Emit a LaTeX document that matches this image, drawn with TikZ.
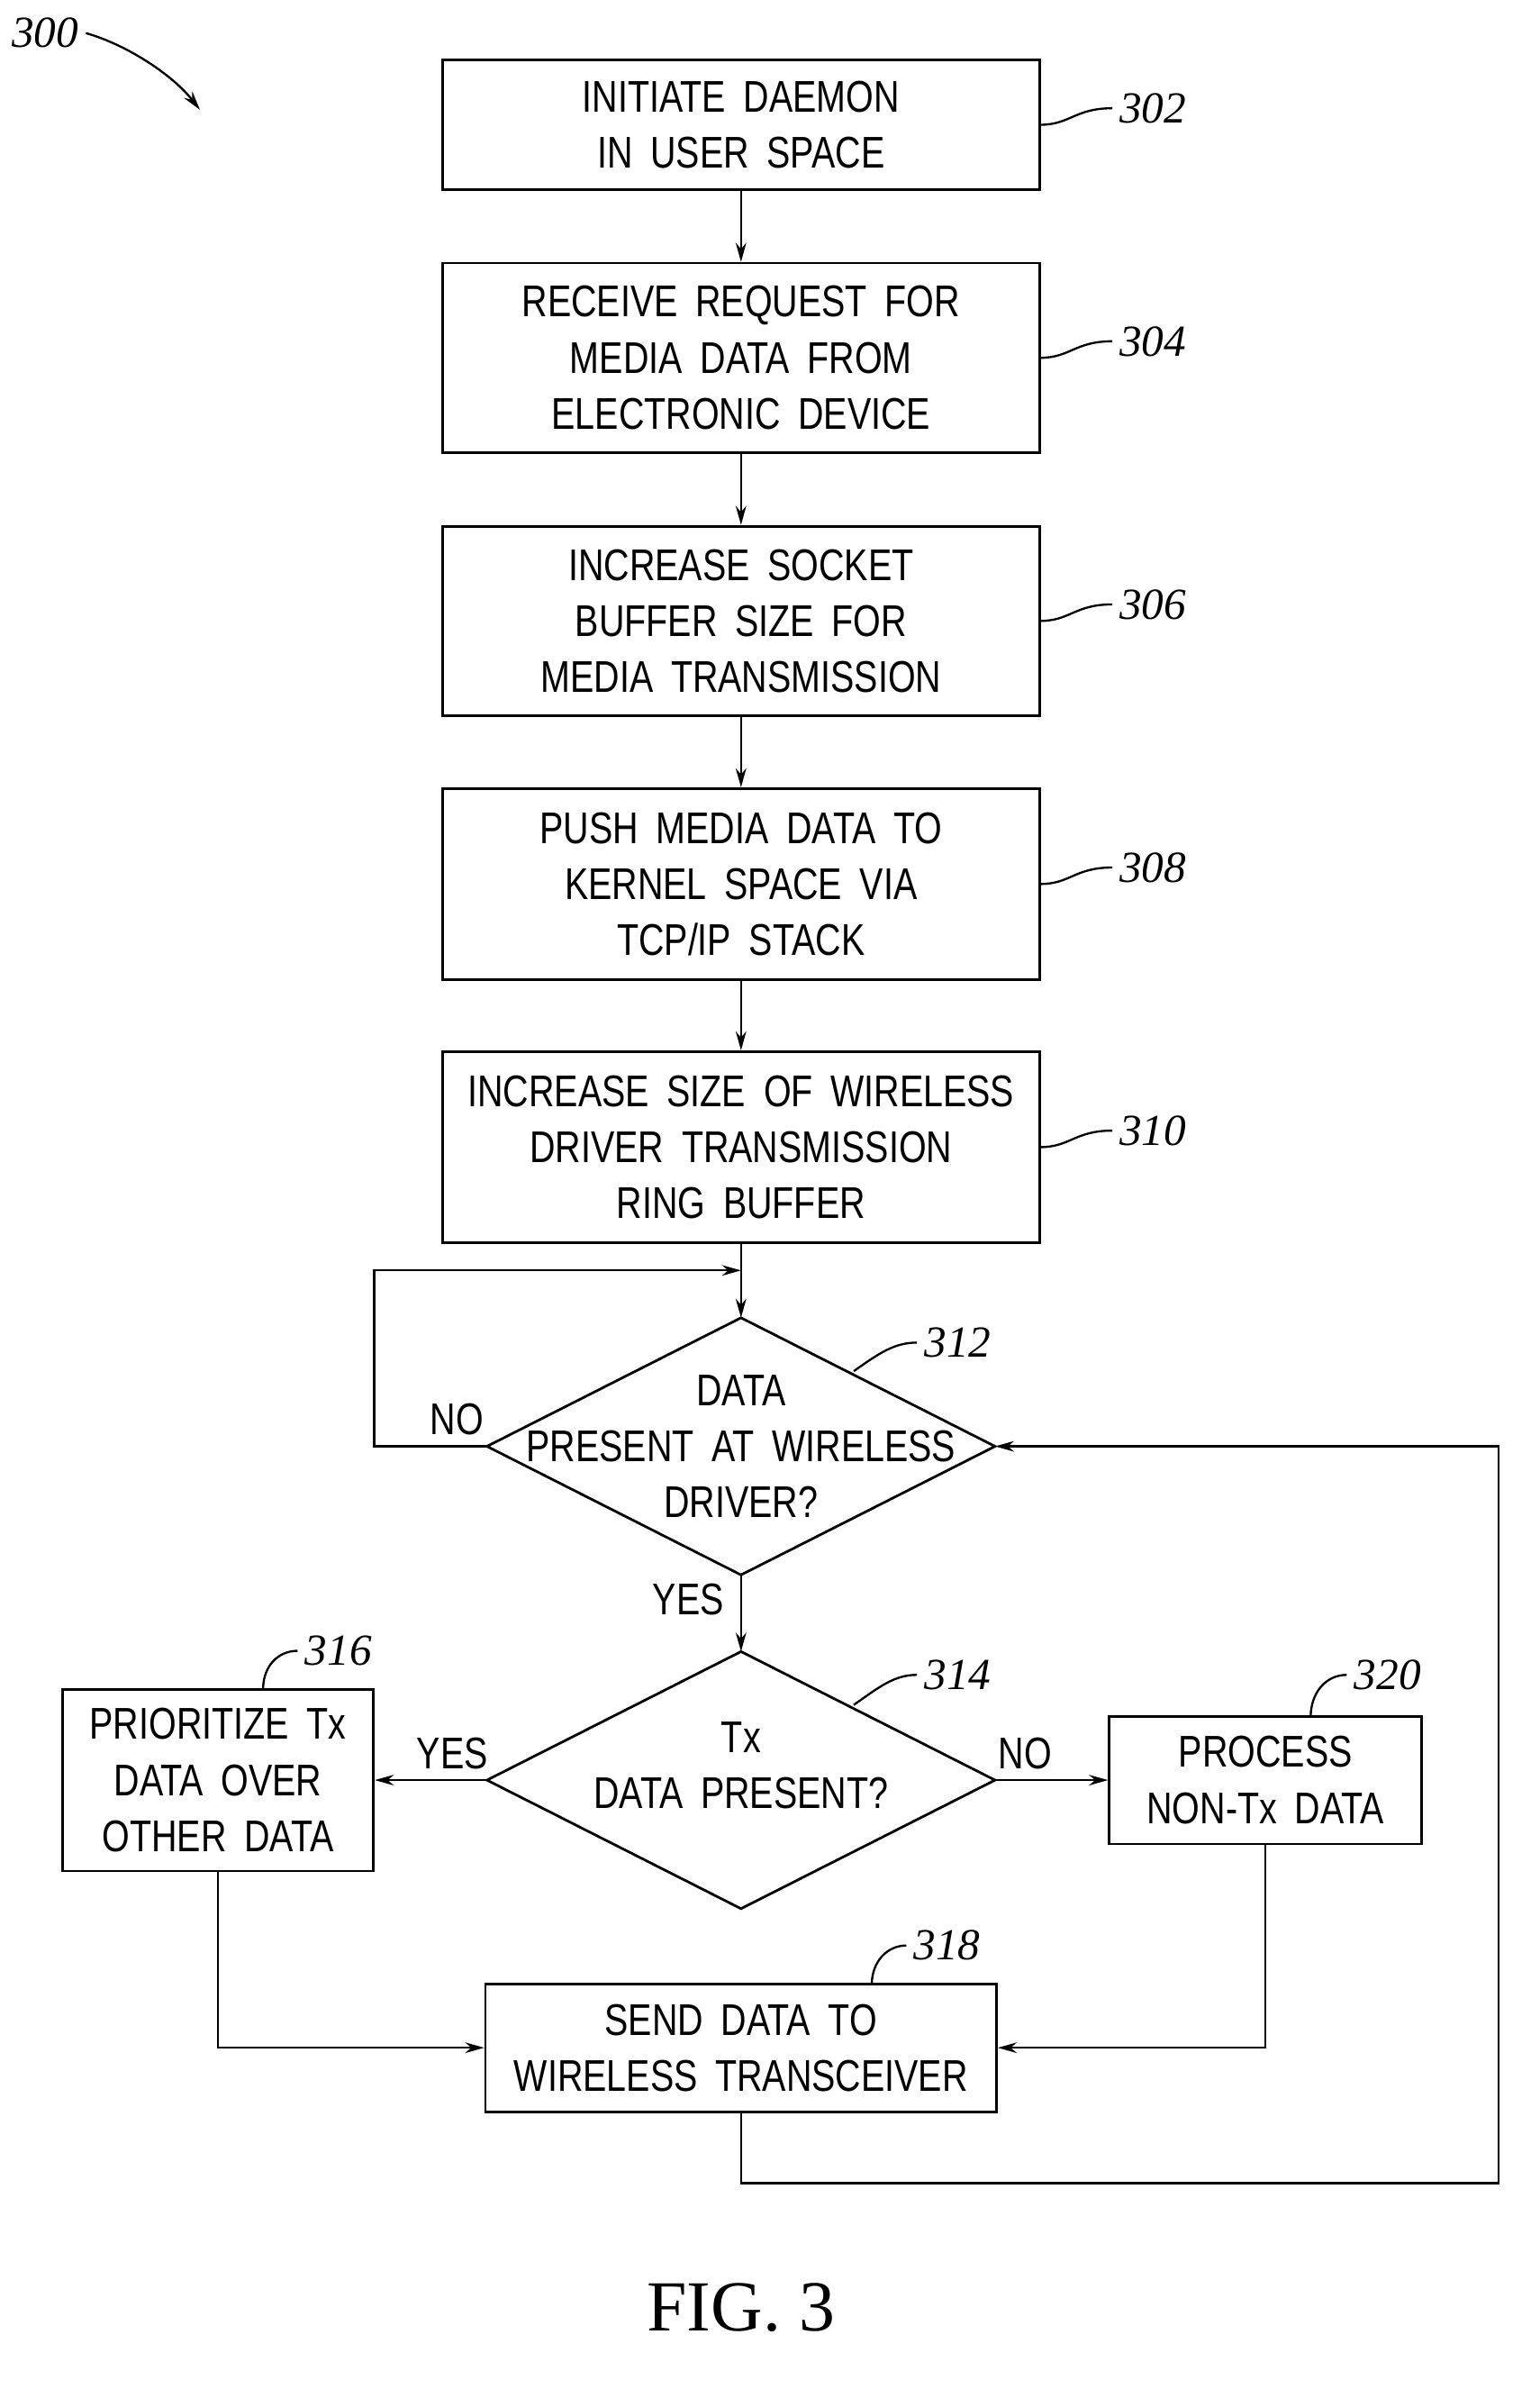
\documentclass[tikz,border=0pt]{standalone}
\usepackage{fontspec}
\setmainfont{Liberation Serif}
\setsansfont{Liberation Sans}[FakeStretch=0.8,WordSpace=1.8]
\usetikzlibrary{shapes.geometric,arrows.meta}
\begin{document}
\begin{tikzpicture}[x=0.025cm,y=-0.025cm,
 txt/.style={align=center,font=\sffamily\fontsize{21}{26.5}\selectfont,inner sep=0pt},
 box/.style={draw,line width=1.2pt,txt},
 dia/.style={draw,line width=1.2pt,diamond,inner sep=0pt,outer sep=0pt,minimum width=338*0.025cm,minimum height=171*0.025cm},
 ar/.style={line width=1pt,-{Stealth[length=9pt,width=5pt]}},
 ln/.style={line width=1pt},
 rf/.style={font=\itshape\fontsize{21}{24}\selectfont},
 lb/.style={font=\sffamily\fontsize{21}{24}\selectfont}]
\useasboundingbox (0,0) rectangle (1024,1589);
\node[box,minimum width=397*0.025cm,minimum height=86*0.025cm] (b302) at (493,83) {INITIATE DAEMON\\IN USER SPACE};
\node[box,minimum width=397*0.025cm,minimum height=126*0.025cm] (b304) at (493,238) {RECEIVE REQUEST FOR\\MEDIA DATA FROM\\ELECTRONIC DEVICE};
\node[box,minimum width=397*0.025cm,minimum height=126*0.025cm] (b306) at (493,413) {INCREASE SOCKET\\BUFFER SIZE FOR\\MEDIA TRANSMISSION};
\node[box,minimum width=397*0.025cm,minimum height=127*0.025cm] (b308) at (493,588) {PUSH MEDIA DATA TO\\KERNEL SPACE VIA\\TCP/IP STACK};
\node[box,minimum width=397*0.025cm,minimum height=127*0.025cm] (b310) at (493,763) {INCREASE SIZE OF WIRELESS\\DRIVER TRANSMISSION\\RING BUFFER};
\node[dia] (d312) at (493,962) {};
\node[txt] (t312) at (493,962) {DATA\\PRESENT AT WIRELESS\\DRIVER?};
\node[dia] (d314) at (493,1184) {};
\node[txt] (t314) at (493,1174) {Tx\\DATA PRESENT?};
\node[box,minimum width=207*0.025cm,minimum height=121*0.025cm] (b316) at (145,1184) {PRIORITIZE Tx\\DATA OVER\\OTHER DATA};
\node[box,minimum width=208*0.025cm,minimum height=85*0.025cm] (b320) at (842,1184) {PROCESS\\NON{-}Tx DATA};
\node[box,minimum width=340*0.025cm,minimum height=85*0.025cm] (b318) at (493,1362) {SEND DATA TO\\WIRELESS TRANSCEIVER};
\draw[ar] (b302) -- (b304);
\draw[ar] (b304) -- (b306);
\draw[ar] (b306) -- (b308);
\draw[ar] (b308) -- (b310);
\draw[ar] (b310) -- (d312);
\draw[ar] (d312) -- (d314);
\coordinate (lp1) at (249,962); \coordinate (lp2) at (249,845); \coordinate (lp3) at (493,845);
\draw[ar] (d312.west) -- (lp1) -- (lp2) -- (lp3);
\draw[ar] (d314.west) -- (b316.east);
\draw[ar] (d314.east) -- (b320.west);
\coordinate (c1) at (145,1362); \coordinate (c2) at (842,1362);
\draw[ar] (b316.south) -- (c1) -- (b318.west);
\draw[ar] (b320.south) -- (c2) -- (b318.east);
\coordinate (r1) at (493,1452); \coordinate (r2) at (997,1452); \coordinate (r3) at (997,962);
\draw[ar] (b318.south) -- (r1) -- (r2) -- (r3) -- (d312.east);
\node[lb] (no1) at (304,944) {NO};
\node[lb] (yes1) at (458,1064) {YES};
\node[lb] (yes2) at (301,1166) {YES};
\node[lb] (no2) at (682,1166) {NO};
\node[rf,anchor=west] (r302) at (740,72) {302};
\node[rf,anchor=west] (r304) at (740,227) {304};
\node[rf,anchor=west] (r306) at (740,402) {306};
\node[rf,anchor=west] (r308) at (740,577) {308};
\node[rf,anchor=west] (r310) at (740,752) {310};
\draw[ln] (692,83) .. controls (712,83) and (715,72) .. (r302.west);
\draw[ln] (692,238) .. controls (712,238) and (715,227) .. (r304.west);
\draw[ln] (692,413) .. controls (712,413) and (715,402) .. (r306.west);
\draw[ln] (692,588) .. controls (712,588) and (715,577) .. (r308.west);
\draw[ln] (692,763) .. controls (712,763) and (715,752) .. (r310.west);
\node[rf,anchor=west] (r312) at (610,893) {312};
\draw[ln] (568,912) .. controls (585,900) and (595,893) .. (r312.west);
\node[rf,anchor=west] (r314) at (610,1114) {314};
\draw[ln] (568,1134) .. controls (585,1122) and (595,1114) .. (r314.west);
\node[rf,anchor=west] (r316) at (198,1098) {316};
\draw[ln] (175,1124) .. controls (175,1108) and (185,1098) .. (r316.west);
\node[rf,anchor=west] (r320) at (896,1114) {320};
\draw[ln] (872,1142) .. controls (872,1126) and (882,1114) .. (r320.west);
\node[rf,anchor=west] (r318) at (603,1294) {318};
\draw[ln] (580,1320) .. controls (580,1305) and (590,1294) .. (r318.west);
\node[rf] (r300) at (30,22) {300};
\coordinate (a300) at (133,73);
\draw[ar] (r300.east) .. controls (85,30) and (115,50) .. (a300);
\node[font=\fontsize{34}{40}\selectfont] (fig) at (493,1535) {FIG. 3};
\end{tikzpicture}
\end{document}
